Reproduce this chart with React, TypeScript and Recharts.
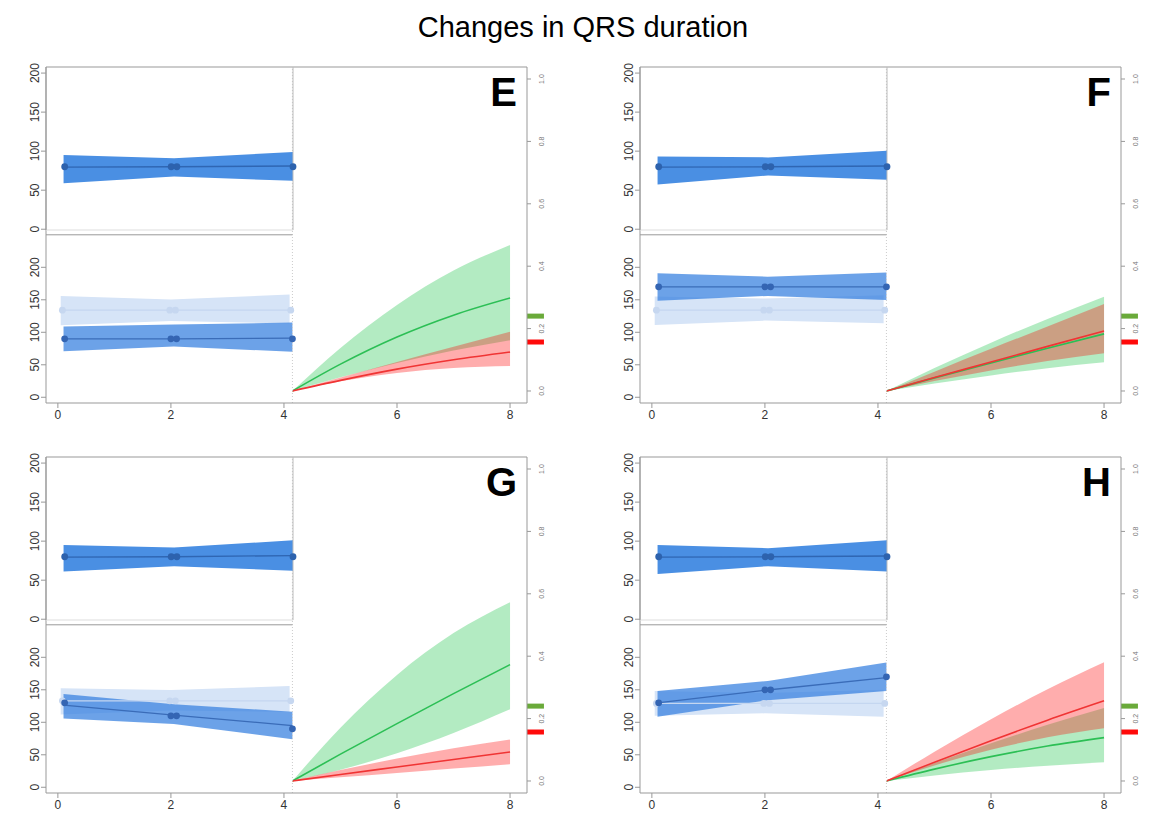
import React from 'react'
import {
  ComposedChart,
  Area,
  Line,
  Scatter,
  XAxis,
  YAxis,
  ReferenceLine,
} from 'recharts'

const FONT = '"Liberation Sans", Arial, sans-serif'

// panel order: E F G H
const panels = ['E', 'F', 'G', 'H']

const xTicks = [0, 2, 4, 6, 8]
const leftTicks = [0, 50, 100, 150, 200]
const rightTicks = [0, 0.2, 0.4, 0.6, 0.8, 1.0]

// time points
const bandX = [0.1, 2.05, 4.15]
const lightBandX = [0.05, 2.0, 4.1]
const dotX = [0.12, 2.0, 2.1, 4.15]
const lightDotX = [0.08, 1.98, 2.08, 4.12]
const curveX = [4.15, 5, 6, 7, 8]

// threshold markers on the right axis
const greenMarker = 0.24
const redMarker = 0.157

// upper-left subplot
const topMean = [[79.5, 80, 81], [79.5, 80, 81], [79.5, 80, 81.5], [79.5, 80, 81]]
const topLow = [[59, 67.5, 62], [57.3, 68.8, 63.3], [61, 68, 62], [58, 68, 61]]
const topHigh = [[95, 91, 99], [93, 92, 100.6], [95, 92, 101], [95, 91, 101]]
const topDots = [[80, 80, 80, 80], [80, 80, 80, 80], [80, 80, 80, 80], [80, 80, 80, 80]]

// lower-left subplot, dark series
const darkMean = [[90, 90, 91], [170, 170, 170], [126.5, 111, 95], [130, 149.7, 168.6]]
const darkLow = [[71, 78, 70], [148.7, 156, 149.7], [106, 97.4, 73.8], [108.6, 134, 148]]
const darkHigh = [[109, 112, 115], [190.8, 185.5, 192], [143.5, 127.7, 116.3], [148, 163.5, 192]]
const darkDots = [[90, 90, 90, 90], [170, 170, 170, 170], [130, 110, 110, 90], [130, 150, 150, 170]]

// lower-left subplot, light series
const lightMean = [[134, 134, 134], [134, 134, 134], [133, 133, 133], [129, 129, 129]]
const lightLow = [[111, 117.5, 113.5], [111.3, 118, 114], [112, 118, 116], [110, 113.8, 108.6]]
const lightHigh = [[156, 150.5, 158], [155, 152, 157], [152.4, 149.7, 155.8], [148, 145, 150]]
const lightDots = [[134, 134, 134, 134], [134, 134, 134, 134], [133, 133, 133, 133], [129, 129, 129, 129]]

// right subplot curves
const greenMean = [
  [0, 0.086, 0.173, 0.243, 0.298],
  [0, 0.042, 0.09, 0.137, 0.183],
  [0, 0.086, 0.184, 0.28, 0.373],
  [0, 0.038, 0.078, 0.112, 0.139],
]
const greenLow = [
  [0, 0.044, 0.09, 0.13, 0.163],
  [0, 0.024, 0.05, 0.073, 0.092],
  [0, 0.036, 0.089, 0.154, 0.23],
  [0, 0.0175, 0.035, 0.049, 0.06],
]
const greenHigh = [
  [0, 0.138, 0.276, 0.386, 0.468],
  [0, 0.074, 0.155, 0.231, 0.302],
  [0, 0.171, 0.34, 0.474, 0.573],
  [0, 0.058, 0.121, 0.18, 0.234],
]
const redMean = [
  [0, 0.034, 0.07, 0.1, 0.125],
  [0, 0.043, 0.093, 0.143, 0.192],
  [0, 0.021, 0.045, 0.069, 0.093],
  [0, 0.06, 0.129, 0.195, 0.257],
]
const redLow = [
  [0, 0.031, 0.058, 0.074, 0.08],
  [0, 0.032, 0.066, 0.096, 0.121],
  [0, 0.012, 0.026, 0.04, 0.054],
  [0, 0.05, 0.1, 0.14, 0.169],
]
const redHigh = [
  [0, 0.043, 0.093, 0.142, 0.19],
  [0, 0.062, 0.135, 0.207, 0.279],
  [0, 0.035, 0.072, 0.105, 0.133],
  [0, 0.094, 0.198, 0.294, 0.381],
]

const band = (xs: number[], lo: number[], hi: number[]) =>
  xs.map((x, i) => ({ x, range: [lo[i], hi[i]] }))
const pts = (xs: number[], ys: number[]) => xs.map((x, i) => ({ x, y: ys[i] }))

const LeftTick = ({ x, y, payload }: any) => (
  <text
    x={x}
    y={y}
    transform={`rotate(-90 ${x} ${y})`}
    textAnchor="middle"
    fontSize={12}
    fill="#333"
    fontFamily={FONT}
  >
    {payload.value}
  </text>
)

const RightTick = ({ x, y, payload }: any) => (
  <text
    x={x + 11}
    y={y}
    transform={`rotate(-90 ${x + 11} ${y})`}
    textAnchor="middle"
    fontSize={7}
    fill="#777"
    fontFamily={FONT}
  >
    {Number(payload.value).toFixed(1)}
  </text>
)

const dot = (color: string) => (props: any) =>
  <circle cx={props.cx} cy={props.cy} r={3.4} fill={color} />

function Panel({ p, left, top }: { p: number; left: number; top: number }) {
  return (
    <div style={{ position: 'absolute', left, top, width: 560, height: 380 }}>
      {/* lower-left + right subplots */}
      <div style={{ position: 'absolute', left: 0, top: 0 }}>
        <ComposedChart width={560} height={380} margin={{ top: 7, right: 28, bottom: 15, left: 6 }}>
          <XAxis
            dataKey="x"
            type="number"
            domain={[-0.21, 8.3]}
            ticks={xTicks}
            interval={0}
            tickSize={5}
            height={22}
            stroke="#999"
            tick={{ fontSize: 12, fill: '#333', fontFamily: FONT }}
          />
          <YAxis
            yAxisId="b"
            type="number"
            domain={[-8.8, 508.2]}
            ticks={leftTicks}
            interval={0}
            width={20}
            tickSize={5}
            stroke="#999"
            tick={LeftTick}
          />
          <YAxis
            yAxisId="r"
            orientation="right"
            type="number"
            domain={[-0.0385, 1.0385]}
            ticks={rightTicks}
            interval={0}
            width={25}
            tickSize={4}
            stroke="#999"
            tick={RightTick}
          />
          <Area yAxisId="b" data={band(lightBandX, lightLow[p], lightHigh[p])} dataKey="range"
            type="linear" stroke="none" fill="#d6e4f7" fillOpacity={1} activeDot={false} isAnimationActive={false} />
          <Area yAxisId="b" data={band(bandX, darkLow[p], darkHigh[p])} dataKey="range"
            type="linear" stroke="none" fill="#3b83e0" fillOpacity={0.75} activeDot={false} isAnimationActive={false} />
          <Area yAxisId="r" data={band(curveX, greenLow[p], greenHigh[p])} dataKey="range"
            type="monotone" stroke="none" fill="#14c040" fillOpacity={0.32} activeDot={false} isAnimationActive={false} />
          <Area yAxisId="r" data={band(curveX, redLow[p], redHigh[p])} dataKey="range"
            type="monotone" stroke="none" fill="#ff0000" fillOpacity={0.32} activeDot={false} isAnimationActive={false} />
          <Line yAxisId="b" data={pts(lightBandX, lightMean[p])} dataKey="y" type="linear"
            stroke="#c4d6f0" strokeWidth={1.3} dot={false} activeDot={false} isAnimationActive={false} />
          <Line yAxisId="b" data={pts(bandX, darkMean[p])} dataKey="y" type="linear"
            stroke="#3a6cb8" strokeWidth={1.3} dot={false} activeDot={false} isAnimationActive={false} />
          <Line yAxisId="r" data={pts(curveX, greenMean[p])} dataKey="y" type="monotone"
            stroke="#2cbf55" strokeWidth={1.6} dot={false} activeDot={false} isAnimationActive={false} />
          <Line yAxisId="r" data={pts(curveX, redMean[p])} dataKey="y" type="monotone"
            stroke="#f03434" strokeWidth={1.6} dot={false} activeDot={false} isAnimationActive={false} />
          <Scatter yAxisId="b" data={pts(lightDotX, lightDots[p])} dataKey="y"
            shape={dot('#c6d7f0')} isAnimationActive={false} />
          <Scatter yAxisId="b" data={pts(dotX, darkDots[p])} dataKey="y"
            shape={dot('#3465b3')} isAnimationActive={false} />
          <ReferenceLine yAxisId="b" x={4.15} stroke="#ccc" strokeDasharray="1 2" />
          <ReferenceLine yAxisId="b" segment={[{ x: -0.21, y: 250 }, { x: 4.15, y: 250 }]} stroke="#999" />
          <ReferenceLine yAxisId="r" y={1.0385} stroke="#999" />
          <ReferenceLine yAxisId="r" segment={[{ x: 8.3, y: greenMarker }, { x: 8.6, y: greenMarker }]}
            stroke="#6aaa3a" strokeWidth={5} ifOverflow="visible" />
          <ReferenceLine yAxisId="r" segment={[{ x: 8.3, y: redMarker }, { x: 8.6, y: redMarker }]}
            stroke="#ff0a0a" strokeWidth={5} ifOverflow="visible" />
        </ComposedChart>
      </div>
      {/* upper-left subplot */}
      <div style={{ position: 'absolute', left: 0, top: 0 }}>
        <ComposedChart width={280} height={180} margin={{ top: 7, right: 7, bottom: 10, left: 6 }}>
          <XAxis dataKey="x" type="number" domain={[-0.21, 4.15]} hide />
          <YAxis
            type="number"
            domain={[-1, 207.8]}
            ticks={leftTicks}
            interval={0}
            width={20}
            tickSize={5}
            stroke="#999"
            tick={LeftTick}
          />
          <Area data={band(bandX, topLow[p], topHigh[p])} dataKey="range" type="linear"
            stroke="none" fill="#4a8fe3" fillOpacity={1} activeDot={false} isAnimationActive={false} />
          <Line data={pts(bandX, topMean[p])} dataKey="y" type="linear"
            stroke="#2f66b3" strokeWidth={1.3} dot={false} activeDot={false} isAnimationActive={false} />
          <Scatter data={pts(dotX, topDots[p])} dataKey="y" shape={dot('#2d62ad')} isAnimationActive={false} />
          <ReferenceLine y={-1} stroke="#ddd" />
          <ReferenceLine x={4.15} stroke="#bbb" />
        </ComposedChart>
      </div>
      <div
        style={{
          position: 'absolute',
          left: 437,
          top: 12,
          width: 60,
          textAlign: 'right',
          font: `bold 40px ${FONT}`,
          lineHeight: '40px',
          color: '#000',
        }}
      >
        {panels[p]}
      </div>
    </div>
  )
}

export default function App() {
  return (
    <div style={{ position: 'absolute', left: 0, top: 0, width: 1161, height: 827, background: '#fff' }}>
      <div
        style={{
          position: 'absolute',
          left: 0,
          top: 13,
          width: 1166,
          textAlign: 'center',
          font: `29px ${FONT}`,
          lineHeight: '29px',
          color: '#000',
        }}
      >
        Changes in QRS duration
      </div>
      <Panel p={0} left={20} top={60} />
      <Panel p={1} left={614} top={60} />
      <Panel p={2} left={20} top={450} />
      <Panel p={3} left={614} top={450} />
    </div>
  )
}
